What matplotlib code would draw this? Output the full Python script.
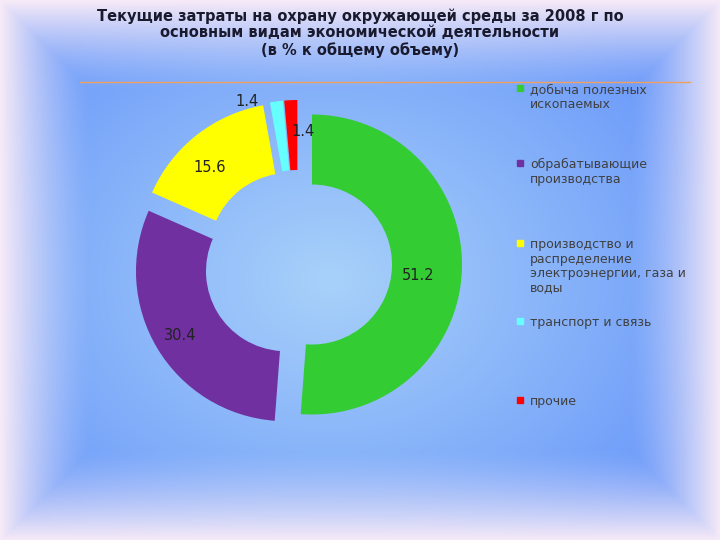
import numpy as np
import matplotlib.pyplot as plt

labels = ['добыча полезных\nископаемых', 'обрабатывающие\nпроизводства',
          'производство и\nраспределение\nэлектроэнергии, газа и\nводы',
          'транспорт и связь', 'прочие']
values = [51.2, 30.4, 15.6, 1.4, 1.4]
colors = ['#33CC33', '#7030A0', '#FFFF00', '#66FFFF', '#FF0000']
title = ('Текущие затраты на охрану окружающей среды за 2008 г по\n'
         'основным видам экономической деятельности\n(в % к общему объему)')

fig = plt.figure(figsize=(7.2, 5.4), dpi=100)

# background gradient
bg = fig.add_axes([0, 0, 1, 1])
yy, xx = np.mgrid[0:540, 0:720]
r = np.sqrt(((xx - 330) / 420) ** 2 + ((yy - 280) / 330) ** 2)
center = np.array([0.66, 0.82, 0.98])
blue = np.array([0.42, 0.60, 0.98])
t = np.clip(r, 0, 1)[..., None]
img = center * (1 - t) + blue * t
edge = np.minimum.reduce([xx, 720 - xx, yy, 540 - yy]) / 90.0
e = np.clip(1 - edge, 0, 1)[..., None] ** 1.3
pink = np.array([0.97, 0.92, 0.97])
img = img * (1 - e) + pink * e
bg.imshow(img, extent=[0, 720, 540, 0], aspect='auto')
bg.axis('off')

ax = fig.add_axes([0, 0, 1, 1])
wedges, _ = ax.pie(values, colors=colors, startangle=90, counterclock=False,
                   radius=150, center=(298, 276), explode=[14, 14, 14, 14, 14],
                   wedgeprops=dict(width=70, edgecolor='none'))
ax.set_xlim(0, 720)
ax.set_ylim(0, 540)
ax.set_aspect('auto')
ax.axis('off')

label_pos = [(418, 265), (180, 205), (210, 372), (247, 438), (303, 408)]
for v, (x, y) in zip(values, label_pos):
    ax.text(x, y, f'{v}', fontsize=10.5, ha='center', va='center', color='#222222')

ax.plot([80, 690], [458, 458], color='#F0A060', lw=1)

fig.text(0.5, 0.985, title, ha='center', va='top', fontsize=10.5,
         fontweight='bold', color='#1a1a2e', linespacing=1.15)

ly = [452, 377, 297, 219, 140]
for lab, c, y in zip(labels, colors, ly):
    ax.add_patch(plt.Rectangle((517, y - 3), 6, 6, color=c))
    ax.text(530, y + 5, lab, fontsize=9, va='top', ha='left',
            color='#404040', linespacing=1.15)

fig.savefig('out.png', dpi=100)
